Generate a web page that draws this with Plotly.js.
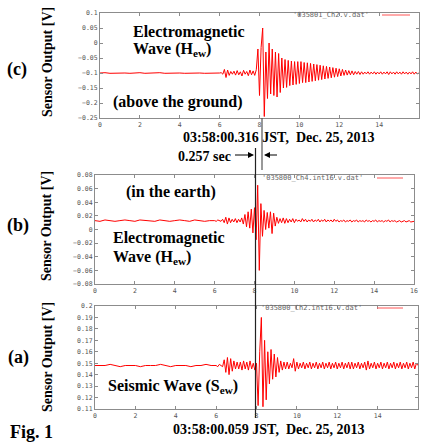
<!DOCTYPE html>
<html>
<head>
<meta charset="utf-8">
<script src="https://cdn.plot.ly/plotly-3.0.1.min.js"></script>
<style>html,body{margin:0;padding:0;background:#fff;}#chart{width:421px;height:443px;}</style>
</head>
<body>
<div id="chart"></div>
<script>
// Sampling of the recorded traces (seconds)
const quietStart = 0, quietStep = 0.25;   // 0 s .. 6 s
const activeStart = 6, activeStep = 0.08; // 6 s .. 16 s

// (c) Electromagnetic wave, above the ground  [mV]
const quietC = [-100,-99,-101,-100,-99,-100,-101,-100,-99,-101,-100,-100,-99,-101,-100,-99,-100,-101,-100,-99,-100,-101,-100,-99,-100];
const activeC = [
 -100,-99,-104,-88,-115,-90,-108,-95,-104,-94,
 -107,-92,-106,-96,-110,-91,-104,-95,-109,-90,
 -106,-93,-108,-89,-20,-175,-15,50,-245,-30,
 -185,0,-170,-20,-175,-30,-180,-35,-165,-50,
 -150,-55,-148,-58,-142,-60,-140,-62,-138,-62,
 -135,-62,-132,-65,-132,-66,-130,-68,-128,-70,
 -126,-72,-124,-74,-122,-76,-120,-78,-118,-80,
 -116,-82,-114,-84,-112,-86,-110,-88,-108,-90,
 -107,-92,-106,-93,-106,-95,-104,-95,-105,-96,
 -104,-97,-103,-96,-104,-97,-103,-96,-104,-97,
 -103,-96,-104,-97,-103,-96,-105,-96,-103,-97,
 -104,-96,-103,-97,-104,-96,-103,-97,-104,-97,
 -103,-96,-104,-97,-103,-100];

// (b) Electromagnetic wave, in the earth  [mV]
const quietB = [13,12,14,13,12,13,14,13,12,14,13,13,12,14,13,12,13,14,13,12,14,13,12,13,13];
const activeB = [
 13,12,14,13,12,15,10,18,8,17,
 10,15,11,16,10,15,11,17,8,22,
 4,26,2,30,-5,32,-15,65,-60,38,
 -10,28,0,25,2,26,-6,24,5,18,
 9,16,10,17,9,16,10,15,11,16,
 10,15,12,14,11,16,12,15,11,14,
 12,15,11,14,12,15,11,14,12,15,
 11,14,12,14,11,15,12,14,11,13,
 12,14,11,13,12,14,11,13,12,14,
 11,13,12,13,11,14,12,13,11,13,
 12,14,11,13,12,13,11,13,12,14,
 11,13,12,13,11,12,13,11,12,13,
 11,12,13,11,12,12];

// (a) Seismic wave  [mV]
const quietA = [148,148,148,149,148,147,148,148,148,147,148,148,148,149,148,147,148,148,148,147,148,148,149,148,148];
const activeA = [
 148,147,149,148,147,153,142,155,140,154,
 143,152,145,151,145,151,144,152,145,151,
 144,152,145,150,144,150,113,160,190,112,
 170,118,160,132,162,136,158,138,155,142,
 152,144,151,145,151,145,150,146,154,143,
 151,145,150,146,151,145,150,146,151,145,
 150,146,151,145,150,146,151,145,150,146,
 151,145,150,146,151,145,150,146,151,145,
 150,146,151,145,151,145,150,146,151,145,
 150,146,151,144,152,145,150,146,151,145,
 150,146,151,145,150,146,151,145,150,146,
 151,145,150,146,151,145,150,146,151,145,
 150,146,151,145,150,148];

const legendNames = ["'035801_Ch2.v.dat'", "'035800_Ch4.int16.v.dat'", "'035800_Ch2.int16.v.dat'"];
const yRanges = [[-0.25, 0.1], [-0.08, 0.08], [0.11, 0.2]];
const yDticks = [0.05, 0.02, 0.01];
const xRange = [0, 16], xDtick = 2;

const W = 421, H = 443;
const px = X => X / W, py = Y => 1 - Y / H;
const toV = arr => arr.map(v => v / 1000);

const RED = '#ff0000';
function traces(q, a, xa, ya, name) {
  return [
    {x0: quietStart, dx: quietStep, y: toV(q), xaxis: xa, yaxis: ya, mode: 'lines',
     line: {color: RED, width: 1}, showlegend: false, name: name, hoverinfo: 'skip'},
    {x0: activeStart, dx: activeStep, y: toV(a), xaxis: xa, yaxis: ya, mode: 'lines',
     line: {color: RED, width: 1}, showlegend: false, name: name, hoverinfo: 'skip'}
  ];
}
const data = [].concat(
  traces(quietC, activeC, 'x', 'y', legendNames[0]),
  traces(quietB, activeB, 'x2', 'y2', legendNames[1]),
  traces(quietA, activeA, 'x3', 'y3', legendNames[2])
);

const tickFont = {family: 'DejaVu Sans Mono, monospace', size: 6.5, color: '#555'};
function axis(domain, range, dtick, anchor) {
  return {domain: domain, range: range, dtick: dtick, tick0: 0, anchor: anchor,
    showline: true, linecolor: '#8c8c8c', linewidth: 1, mirror: 'ticks',
    ticks: 'inside', ticklen: 3, tickcolor: '#8c8c8c', tickwidth: 1,
    showgrid: false, zeroline: false, tickfont: tickFont, fixedrange: true};
}

const serif = 'Liberation Serif, Times New Roman, serif';
function txt(text, X, Y, size, xanchor, extra) {
  return Object.assign({text: '<b>' + text + '</b>', x: px(X), y: py(Y), xref: 'paper', yref: 'paper',
    xanchor: xanchor || 'left', yanchor: 'middle', showarrow: false,
    font: {family: serif, size: size, color: '#000'}}, extra || {});
}
function legendText(text, X, Y) {
  return {text: text, x: px(X), y: py(Y), xref: 'paper', yref: 'paper', xanchor: 'left', yanchor: 'middle',
    showarrow: false, font: {family: 'DejaVu Sans Mono, monospace', size: 7, color: '#666'}};
}

const annotations = [
  txt('(c)', 17, 69, 18, 'center'),
  txt('(b)', 18, 226, 18, 'center'),
  txt('(a)', 18, 357, 18, 'center'),
  txt('Fig. 1', 8, 432, 18, 'left'),
  txt('Sensor Output [V]', 47, 62, 14, 'center', {textangle: -90}),
  txt('Sensor Output [V]', 47, 226, 14, 'center', {textangle: -90}),
  txt('Sensor Output [V]', 47, 357, 14, 'center', {textangle: -90}),
  txt('Electromagnetic', 131, 32, 16),
  txt('Wave (H<sub>ew</sub>)', 131, 50, 16),
  txt('(above the ground)', 111, 102, 16),
  txt('(in the earth)', 124, 192, 16),
  txt('Electromagnetic', 111, 238, 16),
  txt('Wave (H<sub>ew</sub>)', 111, 257, 16),
  txt('Seismic Wave (S<sub>ew</sub>)', 106, 386, 16),
  txt('03:58:00.316 JST,&nbsp; Dec. 25, 2013', 181, 137, 14),
  txt('03:58:00.059 JST,&nbsp; Dec. 25, 2013', 171, 429, 14),
  txt('0.257 sec', 176, 156, 14),
  legendText(legendNames[0], 291, 15),
  legendText(legendNames[1], 260, 178),
  legendText(legendNames[2], 259, 308),
  {text: ' ', x: px(254), y: py(155), xref: 'paper', yref: 'paper', ax: -21, ay: 0,
   showarrow: true, arrowhead: 2, arrowsize: 1, arrowwidth: 1.2, arrowcolor: '#000', font: {size: 2}},
  {text: ' ', x: px(264), y: py(155), xref: 'paper', yref: 'paper', ax: 15, ay: 0,
   showarrow: true, arrowhead: 2, arrowsize: 1, arrowwidth: 1.2, arrowcolor: '#000', font: {size: 2}}
];

function vline(X, Y0, Y1, color, w) {
  return {type: 'line', xref: 'paper', yref: 'paper', x0: px(X), x1: px(X), y0: py(Y0), y1: py(Y1),
    line: {color: color, width: w}, layer: 'above'};
}
function sample(X0, X1, Y) {
  return {type: 'line', xref: 'paper', yref: 'paper', x0: px(X0), x1: px(X1), y0: py(Y), y1: py(Y),
    line: {color: '#ff5555', width: 1}};
}
const shapes = [
  vline(262, 118, 170, '#555', 1.2),
  vline(255.5, 148, 418, '#222', 1.2),
  sample(382, 410, 15),
  sample(377, 403, 178),
  sample(377, 403, 308)
];

const layout = {
  width: W, height: H, margin: {l: 0, r: 0, t: 0, b: 0},
  paper_bgcolor: '#fff', plot_bgcolor: '#fff', showlegend: false,
  xaxis: axis([px(100), px(419)], xRange, xDtick, 'y'),
  yaxis: axis([py(118), py(13)], yRanges[0], yDticks[0], 'x'),
  xaxis2: axis([px(95), px(414)], xRange, xDtick, 'y2'),
  yaxis2: axis([py(284), py(175)], yRanges[1], yDticks[1], 'x2'),
  xaxis3: axis([px(95), px(418)], xRange, xDtick, 'y3'),
  yaxis3: axis([py(409), py(306)], yRanges[2], yDticks[2], 'x3'),
  annotations: annotations, shapes: shapes
};

Plotly.newPlot('chart', data, layout, {staticPlot: true, displayModeBar: false});
</script>
</body>
</html>
